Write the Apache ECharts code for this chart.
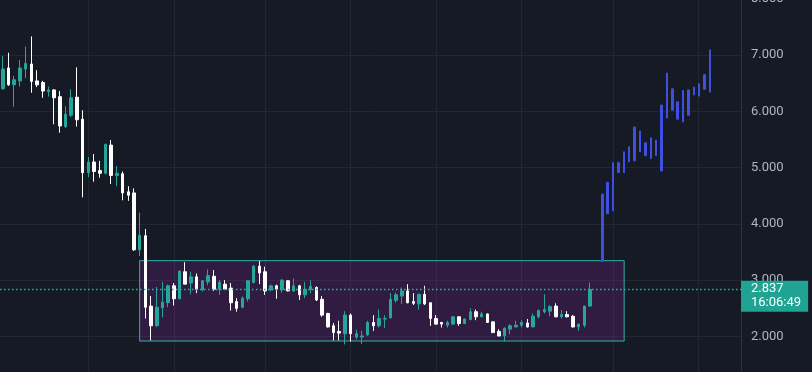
<!DOCTYPE html>
<html><head><meta charset="utf-8">
<script src="https://cdn.jsdelivr.net/npm/echarts@6/dist/echarts.min.js"></script>
<style>html,body{margin:0;padding:0;background:#161a25}#c{width:812px;height:372px}</style>
</head><body><div id="c"></div>
<script>
// Candles (open, close, low, high)
const opens = [
 6.40,6.77,6.47,6.54,6.75,6.84,6.54,6.51,6.35,6.38,
 6.26,5.73,5.93,6.25,5.86,4.91,5.10,4.95,4.90,5.40,
 4.86,4.89,4.57,4.55,3.54,3.79,2.54,2.19,2.51,2.60,
 2.90,2.67,3.15,2.95,3.06,2.83,2.97,3.07,2.84,2.93,
 2.86,2.62,2.52,2.67,2.96,3.25,3.15,2.83,2.90,2.83,
 2.99,2.81,2.90,2.74,2.83,2.87,2.66,2.41,2.19,2.09,
 2.05,2.38,1.99,1.99,2.03,2.25,2.19,2.31,2.33,2.64,
 2.72,2.81,2.62,2.58,2.75,2.60,2.32,2.25,2.20,2.22,
 2.35,2.23,2.30,2.44,2.35,2.40,2.26,2.09,2.01,2.13,
 2.17,2.20,2.24,2.17,2.35,2.44,2.45,2.54,2.35,2.39,
 2.36,2.17,2.20,2.54];
const closes = [
 6.75,6.47,6.56,6.77,6.85,6.53,6.47,6.36,6.38,6.24,
 5.74,5.95,6.24,5.85,4.91,5.10,4.93,4.90,5.41,4.86,
 4.90,4.55,4.51,3.54,3.80,2.52,2.19,2.52,2.61,2.90,
 2.67,3.16,2.93,3.06,2.84,2.99,3.08,2.84,2.96,2.84,
 2.60,2.50,2.68,2.99,3.25,3.13,2.81,2.90,2.84,3.00,
 2.81,2.90,2.74,2.84,2.89,2.65,2.38,2.17,2.07,2.06,
 2.38,2.05,2.05,2.01,2.25,2.19,2.32,2.32,2.66,2.74,
 2.81,2.60,2.59,2.75,2.58,2.32,2.22,2.22,2.25,2.35,
 2.23,2.31,2.44,2.35,2.40,2.25,2.07,2.01,2.15,2.19,
 2.20,2.25,2.17,2.36,2.46,2.48,2.53,2.35,2.39,2.35,
 2.17,2.22,2.54,2.837];
const lows = [
 6.38,6.45,6.08,6.44,6.59,6.33,6.43,6.24,6.26,5.77,
 5.62,5.70,5.90,5.73,4.47,4.83,4.75,4.82,4.88,4.71,
 4.67,4.42,4.41,3.52,3.43,2.32,1.93,2.17,2.34,2.52,
 2.55,2.66,2.93,2.75,2.77,2.80,2.91,2.81,2.74,2.83,
 2.46,2.44,2.50,2.62,2.94,2.93,2.74,2.80,2.67,2.78,
 2.80,2.79,2.65,2.68,2.77,2.63,2.35,2.16,1.93,1.93,
 1.86,1.91,1.95,1.87,2.01,2.10,2.16,2.15,2.32,2.60,
 2.58,2.59,2.56,2.48,2.56,2.19,2.21,2.16,2.16,2.20,
 2.19,2.22,2.29,2.29,2.34,2.24,2.06,2.00,1.91,2.04,
 2.16,2.16,2.16,2.17,2.32,2.41,2.36,2.34,2.32,2.34,
 2.16,2.10,2.16,2.53];
const highs = [
 6.98,7.04,6.63,6.91,7.15,7.33,6.73,6.54,6.44,6.39,
 6.36,6.09,6.39,6.78,6.02,5.19,5.24,5.12,5.43,5.49,
 5.03,4.93,4.67,4.63,4.20,3.91,2.72,2.88,2.97,2.92,
 2.95,3.18,3.32,3.15,3.12,3.00,3.19,3.18,3.00,3.00,
 2.95,2.68,2.71,3.00,3.27,3.34,3.24,2.92,2.92,3.02,
 3.00,3.03,2.92,2.97,3.00,2.89,2.72,2.42,2.24,2.28,
 2.45,2.41,2.12,2.10,2.28,2.38,2.48,2.38,2.77,2.78,
 2.87,2.93,2.77,2.76,2.90,2.60,2.38,2.26,2.28,2.36,
 2.36,2.32,2.50,2.48,2.44,2.41,2.27,2.13,2.16,2.22,
 2.28,2.29,2.31,2.41,2.48,2.75,2.56,2.59,2.47,2.45,
 2.38,2.23,2.55,2.96];
// Projected bars pattern (low, high)
const blueLows  = [3.33,4.18,4.23,4.91,4.91,5.10,5.12,5.28,5.21,5.16,5.21,4.94,5.88,6.02,5.86,5.81,5.93,6.29,6.27,6.39,6.34];
const blueHighs = [4.53,4.74,5.09,5.09,5.28,5.37,5.72,5.65,5.44,5.53,5.49,6.11,6.68,6.40,6.17,6.37,6.38,6.43,6.49,6.65,7.09];
// Time slots on the x axis and where the time grid lines fall
const slotCount = 130;
const categories = Array.from({length: slotCount}, (_, i) => String(i));
const blueCategories = blueLows.map((_, i) => 'p' + i);
const timeGridIdx = [15, 30, 46, 61, 76, 91, 107, 122];
// Range box (price range and slots)
const boxTop = 3.347, boxBottom = 1.92, boxFrom = '24', boxTo = '109';
const lastPrice = 2.837;
const lastTime = '16:06:49';

const candleData = opens.map((o, i) => [o, closes[i], lows[i], highs[i]]);
const blueData = blueLows.map((l, i) => [l, blueHighs[i], l, blueHighs[i]]);

const UP = '#26a69a', DOWN = '#ffffff', BLUE = '#3f4fe0';
const chart = echarts.init(document.getElementById('c'));
chart.setOption({
  backgroundColor: '#161a25',
  animation: false,
  grid: [
    {left: 0, right: 71, top: -1.3, bottom: -20.8, containLabel: false, outerBoundsMode: 'none'},
    {left: 599.6, width: 113.1, top: -1.3, bottom: -20.8, containLabel: false, outerBoundsMode: 'none'}
  ],
  xAxis: [
    {type: 'category', data: categories, gridIndex: 0, boundaryGap: true,
     axisLine: {show: false}, axisTick: {show: false}, axisLabel: {show: false},
     splitLine: {show: true, alignWithLabel: true, interval: (i) => timeGridIdx.includes(i),
                 lineStyle: {color: '#232733', width: 1}}},
    {type: 'category', data: blueCategories, gridIndex: 1, show: false}
  ],
  yAxis: [
    {type: 'value', gridIndex: 0, position: 'right', min: 1, max: 8, interval: 1, scale: false,
     axisLine: {show: true, lineStyle: {color: '#2f3340'}}, axisTick: {show: false},
     axisLabel: {color: '#b2b5be', fontFamily: 'Roboto', fontSize: 13, margin: 10,
                 formatter: (v) => v.toFixed(3)},
     splitLine: {show: true, lineStyle: {color: '#232733', width: 1}}},
    {type: 'value', gridIndex: 1, min: 1, max: 8, show: false, splitLine: {show: false}}
  ],
  series: [
    {type: 'candlestick', xAxisIndex: 0, yAxisIndex: 0, data: candleData, barWidth: 3,
     itemStyle: {color: UP, color0: DOWN, borderColor: UP, borderColor0: DOWN, borderWidth: 1},
     markArea: {silent: true,
       itemStyle: {color: 'rgba(156,39,176,0.2)', borderColor: '#2fb2ab', borderWidth: 1},
       data: [[{xAxis: boxFrom, yAxis: boxTop}, {xAxis: boxTo, yAxis: boxBottom}]]},
     markLine: {silent: true, symbol: ['none', 'none'],
       lineStyle: {color: '#2bb3a6', type: [1.5, 2.5], width: 1.3, opacity: 1},
       label: {show: true, position: 'end', distance: 0, offset: [0, 7],
               formatter: lastPrice.toFixed(3) + '\n' + lastTime,
               backgroundColor: '#1fa393', color: '#ffffff', fontFamily: 'Roboto', fontSize: 13,
               lineHeight: 14, padding: [2, 7, 1, 10], align: 'left'},
       data: [{yAxis: lastPrice, lineStyle: {color: '#2bb3a6'}}]}
    },
    {type: 'candlestick', xAxisIndex: 1, yAxisIndex: 1, data: blueData, barWidth: 2,
     itemStyle: {color: BLUE, color0: BLUE, borderColor: BLUE, borderColor0: BLUE, borderWidth: 1}}
  ]
});
</script></body></html>
